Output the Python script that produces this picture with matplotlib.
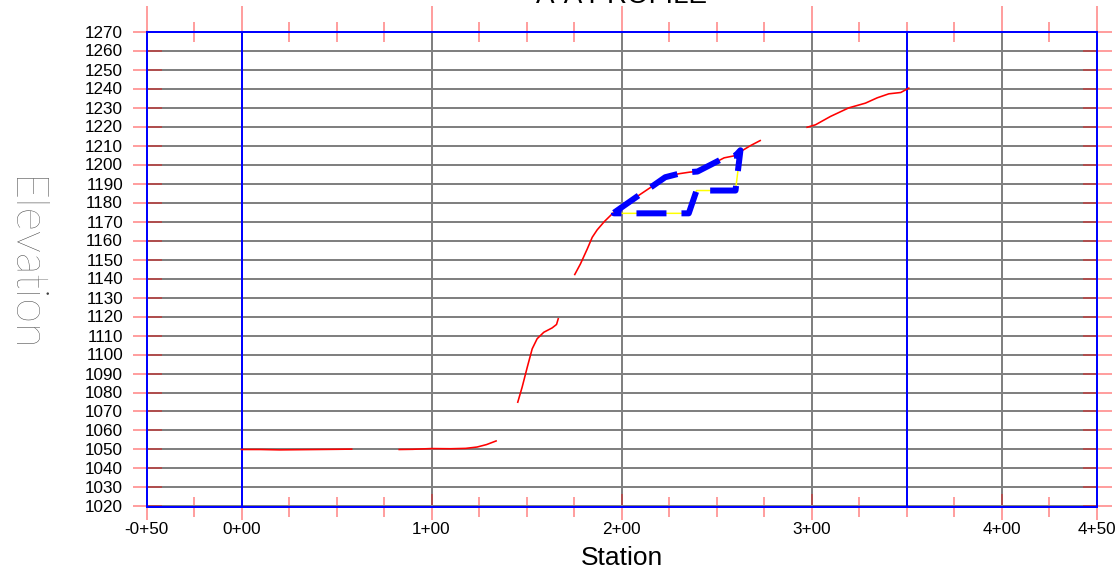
import matplotlib
matplotlib.use("Agg")
import matplotlib.pyplot as plt
from matplotlib.ticker import FixedLocator

# ground profile segments (station ft, elevation ft)
seg1_sta = [0, 10, 20, 30, 40, 50, 58]
seg1_elev = [1050, 1050, 1049.8, 1049.9, 1050, 1050.1, 1050.2]
seg2_sta = [83, 90, 100, 110, 118, 124, 129, 134]
seg2_elev = [1050, 1050.1, 1050.5, 1050.4, 1050.6, 1051.3, 1052.6, 1054.5]
seg3_sta = [145.4, 147.7, 150.4, 153.0, 155.6, 159.1, 163.5, 165.8, 166.7]
seg3_elev = [1074.9, 1082.8, 1093.3, 1103.0, 1108.3, 1111.7, 1114.0, 1115.8, 1118.8]
seg4_sta = [175.4, 178.4, 182.0, 184.6, 187.2, 191, 196, 203, 209, 216, 223, 230,
            236, 240, 248, 254, 260, 263, 268, 273]
seg4_elev = [1142.1, 1147.7, 1155.6, 1161.7, 1165.6, 1170, 1174.9, 1179.5, 1183.7,
             1188.4, 1193.3, 1195.1, 1196, 1196.3, 1200.4, 1203.5, 1204.7, 1207,
             1210, 1212.6]
seg5_sta = [297.7, 302.1, 310, 319.6, 328.4, 334.6, 340.7, 347, 351.2]
seg5_elev = [1219.6, 1220.9, 1225.3, 1229.8, 1232.3, 1235.1, 1237.2, 1237.9, 1240.2]
segments = [(seg1_sta, seg1_elev), (seg2_sta, seg2_elev), (seg3_sta, seg3_elev),
            (seg4_sta, seg4_elev), (seg5_sta, seg5_elev)]

# cut outline
cut_sta = [196, 203, 209, 216, 223, 230, 236, 240, 248, 254, 260, 262.6,
           260, 239.5, 235.4, 196, 196]
cut_elev = [1174.6, 1179.5, 1183.7, 1188.4, 1193.3, 1195.1, 1196, 1196.3, 1200.4,
            1203.5, 1204.7, 1207.5, 1186.3, 1186.3, 1174.3, 1174.3, 1174.6]
# yellow part of the outline (right side and bottom)
yel_sta = [262.6, 260, 239.5, 235.4, 196]
yel_elev = [1207.5, 1186.3, 1186.3, 1174.3, 1174.3]

major_sta = [-50, 0, 100, 200, 300, 400, 450]
major_labels = ["-0+50", "0+00", "1+00", "2+00", "3+00", "4+00", "4+50"]
minor_sta = [-25, 25, 50, 75, 125, 150, 175, 225, 250, 275, 325, 350, 375, 425]
elev_ticks = list(range(1020, 1271, 10))
frame_sta = [0, 350]

px = 72 / 100  # points per pixel
tick_red = (1, 0, 0, 0.5)

fig = plt.figure(figsize=(11.16, 5.71), dpi=100)
ax = fig.add_axes([146.5 / 1116, 1 - 506.5 / 571, 950 / 1116, 475 / 571])
ax.set_xlim(-50, 450)
ax.set_ylim(1020, 1270)

ax.set_axisbelow(True)
ax.xaxis.set_major_locator(FixedLocator(major_sta))
ax.xaxis.set_minor_locator(FixedLocator(minor_sta))
ax.set_xticklabels(major_labels)
ax.yaxis.set_major_locator(FixedLocator(elev_ticks))
ax.grid(True, which="major", color="#808080", lw=2 * px)

for tl in ax.get_xticklabels() + ax.get_yticklabels():
    tl.set_fontfamily("Liberation Sans")
    tl.set_fontsize(12.3)

ax.tick_params(axis="y", which="major", direction="inout", length=29 * px,
               width=1.5 * px, color=tick_red, right=True, pad=9 * px)
ax.tick_params(axis="x", which="major", direction="inout", length=26 * px,
               width=1.5 * px, color=tick_red, top=False, pad=2 * px)
ax.tick_params(axis="x", which="minor", direction="inout", length=20 * px,
               width=1.5 * px, color=tick_red, top=True)

# long ticks along the top edge
top = ax.secondary_xaxis("top")
top.xaxis.set_major_locator(FixedLocator(major_sta))
top.tick_params(axis="x", which="major", direction="out", length=25 * px,
                width=1.5 * px, color=tick_red, labeltop=False)
top.spines["top"].set_visible(False)

for s in ax.spines.values():
    s.set_color("blue")
    s.set_linewidth(2 * px)

for x in frame_sta:
    ax.axvline(x, color="blue", lw=2 * px, zorder=2)

for sta, elev in segments:
    ax.plot(sta, elev, color="red", lw=1.6 * px, zorder=3)

ax.plot(yel_sta, yel_elev, color="#ffff00", lw=1.5 * px, zorder=3)
ax.plot(cut_sta, cut_elev, color="blue", lw=6 * px, linestyle=(0, (5, 2.5)),
        solid_capstyle="butt", dash_capstyle="butt", zorder=4)

ax.set_xlabel("Station", fontfamily="Liberation Sans", fontsize=19, labelpad=7)
fig.text(23 / 1116, 1 - 265 / 571, "Elevation", rotation=270, ha="center",
         va="center", fontsize=32.5, family="Lato", weight="light", color="#3c3c3c")
fig.text(621 / 1116, 1 - 3 / 571, "A-A PROFILE", ha="center", va="baseline",
         fontsize=20, fontfamily="Liberation Sans")

fig.savefig("out.png", dpi=100)
